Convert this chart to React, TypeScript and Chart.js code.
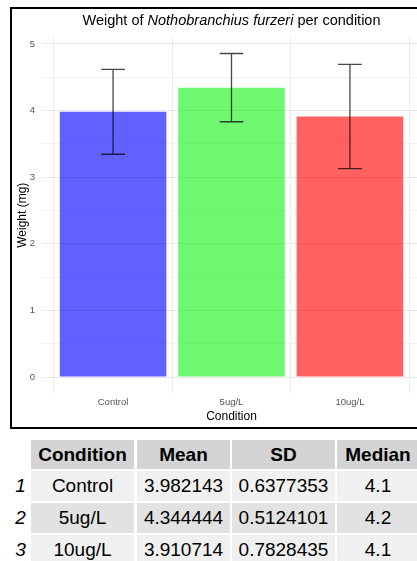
import React, { useEffect, useRef } from 'react';
import { Chart, registerables } from 'chart.js';

Chart.register(...registerables);

const categories = ['Control', '5ug/L', '10ug/L'];
const means = [3.982143, 4.344444, 3.910714];
const sds = [0.6377353, 0.5124101, 0.7828435];
const meanLabels = ['3.982143', '4.344444', '3.910714'];
const sdLabels = ['0.6377353', '0.5124101', '0.7828435'];
const medianLabels = ['4.1', '4.2', '4.1'];
const rowNumbers = ['1', '2', '3'];
const tableHeaders = ['Condition', 'Mean', 'SD', 'Median'];
const yTickValues = [0, 0.5, 1, 1.5, 2, 2.5, 3, 3.5, 4, 4.5, 5];
const barColors = ['rgba(0,0,255,0.62)', 'rgba(0,240,0,0.56)', 'rgba(255,0,0,0.62)'];

const FONT = '"Liberation Sans", Arial, Helvetica, sans-serif';

const errorBarPlugin = {
  id: 'errorBars',
  afterDatasetsDraw(chart: any) {
    const { ctx, scales } = chart;
    const x = scales.x;
    const y = scales.y;
    const step = x.getPixelForValue(1) - x.getPixelForValue(0);
    const hw = step * 0.1;
    ctx.save();
    ctx.strokeStyle = 'rgba(0,0,0,0.72)';
    ctx.lineWidth = 1.3;
    means.forEach((m, i) => {
      const cx = x.getPixelForValue(i);
      const yt = y.getPixelForValue(m + sds[i]);
      const yb = y.getPixelForValue(m - sds[i]);
      ctx.beginPath();
      ctx.moveTo(cx, yt);
      ctx.lineTo(cx, yb);
      ctx.moveTo(cx - hw, yt);
      ctx.lineTo(cx + hw, yt);
      ctx.moveTo(cx - hw, yb);
      ctx.lineTo(cx + hw, yb);
      ctx.stroke();
    });
    ctx.restore();
  },
};

const titlePlugin = {
  id: 'mixedTitle',
  afterDraw(chart: any) {
    const { ctx, chartArea } = chart;
    const parts = [
      { t: 'Weight of ', f: `14.5px ${FONT}` },
      { t: 'Nothobranchius furzeri', f: `italic 14.5px ${FONT}` },
      { t: ' per condition', f: `14.5px ${FONT}` },
    ];
    ctx.save();
    let total = 0;
    parts.forEach((p) => {
      ctx.font = p.f;
      total += ctx.measureText(p.t).width;
    });
    let xPos = (chartArea.left + chartArea.right) / 2 - total / 2;
    ctx.fillStyle = '#000';
    ctx.textBaseline = 'middle';
    ctx.textAlign = 'left';
    parts.forEach((p) => {
      ctx.font = p.f;
      ctx.fillText(p.t, xPos, 12);
      xPos += ctx.measureText(p.t).width;
    });
    ctx.restore();
  },
};

function ChartBox() {
  const ref = useRef<HTMLCanvasElement | null>(null);
  useEffect(() => {
    if (!ref.current) return;
    const chart = new Chart(ref.current, {
      type: 'bar',
      data: {
        datasets: [
          {
            data: categories.map((_, i) => ({ x: i, y: means[i] })),
            backgroundColor: barColors,
            borderWidth: 0,
            categoryPercentage: 1,
            barPercentage: 0.9,
          },
        ],
      },
      options: {
        animation: false,
        responsive: false,
        devicePixelRatio: 1,
        layout: { padding: { top: 28.3, right: 11, left: 0, bottom: 0 } },
        plugins: { legend: { display: false }, tooltip: { enabled: false }, title: { display: false } },
        scales: {
          x: {
            type: 'linear',
            min: -0.6,
            max: 2.6,
            offset: false,
            afterBuildTicks(s: any) {
              s.ticks = categories.map((_, i) => ({ value: i }));
            },
            grid: { color: '#ebebeb', lineWidth: 1, drawTicks: false },
            border: { display: false },
            ticks: {
              color: '#555',
              font: { family: FONT, size: 9.5 },
              padding: 3.5,
              autoSkip: false,
              maxRotation: 0,
              callback: (v: any) => categories[v] ?? '',
            },
            title: { display: true, text: 'Condition', color: '#000', font: { family: FONT, size: 12 }, padding: { top: 0, bottom: 3.5 } },
            afterFit(s: any) {
              s.height = 33.8;
            },
          },
          y: {
            min: -0.243,
            max: 5.1,
            afterBuildTicks(s: any) {
              s.ticks = yTickValues.map((v) => ({ value: v }));
            },
            grid: {
              drawTicks: false,
              color: (c: any) => (c.tick && Number.isInteger(c.tick.value) ? '#e8e8e8' : '#f3f3f3'),
              lineWidth: 1,
            },
            border: { display: false },
            ticks: {
              color: '#555',
              font: { family: FONT, size: 9.5 },
              padding: 7,
              autoSkip: false,
              callback: (v: any) => (Number.isInteger(v) ? String(v) : ''),
            },
            title: { display: true, text: 'Weight (mg)', color: '#000', font: { family: FONT, size: 12 }, padding: { top: 3, bottom: 0 } },
            afterFit(s: any) {
              s.width = 30;
            },
          },
        },
      },
      plugins: [errorBarPlugin, titlePlugin],
    } as any);
    return () => chart.destroy();
  }, []);
  return (
    <canvas
      ref={ref}
      width={420}
      height={418}
      style={{ position: 'absolute', left: 12, top: 9, width: 420, height: 418 }}
    />
  );
}

const cols = [
  { x: 31, w: 103 },
  { x: 137, w: 93 },
  { x: 232, w: 103 },
  { x: 337, w: 82 },
];

function Table() {
  const cells: React.ReactNode[] = [];
  tableHeaders.forEach((h, j) => {
    cells.push(
      <div
        key={'h' + j}
        style={{
          position: 'absolute', left: cols[j].x, top: 440, width: cols[j].w, height: 29,
          background: '#d4d4d4', fontWeight: 'bold', display: 'flex', alignItems: 'center', justifyContent: 'center',
        }}
      >
        {h}
      </div>
    );
  });
  categories.forEach((c, i) => {
    const top = 471 + i * 32;
    const bg = i % 2 === 0 ? '#f0f0f0' : '#e2e2e2';
    const vals = [c, meanLabels[i], sdLabels[i], medianLabels[i]];
    cells.push(
      <div
        key={'n' + i}
        style={{
          position: 'absolute', left: 0, top, width: 31, height: 30, fontStyle: 'italic',
          display: 'flex', alignItems: 'center', justifyContent: 'center', paddingLeft: 10, boxSizing: 'border-box',
        }}
      >
        {rowNumbers[i]}
      </div>
    );
    vals.forEach((v, j) => {
      cells.push(
        <div
          key={'c' + i + '_' + j}
          style={{
            position: 'absolute', left: cols[j].x, top, width: cols[j].w, height: 30, background: bg,
            display: 'flex', alignItems: 'center', justifyContent: 'center',
          }}
        >
          {v}
        </div>
      );
    });
  });
  return <div style={{ fontFamily: FONT, fontSize: 19, color: '#000', whiteSpace: 'nowrap' }}>{cells}</div>;
}

export default function App() {
  return (
    <div
      style={{
        position: 'absolute', left: 0, top: 0, width: 417, height: 561, overflow: 'hidden', background: '#fff',
      }}
    >
      <div
        style={{
          position: 'absolute', left: 10, top: 7, width: 440, height: 422,
          border: '2px solid #000', boxSizing: 'border-box',
        }}
      />
      <ChartBox />
      <Table />
    </div>
  );
}
